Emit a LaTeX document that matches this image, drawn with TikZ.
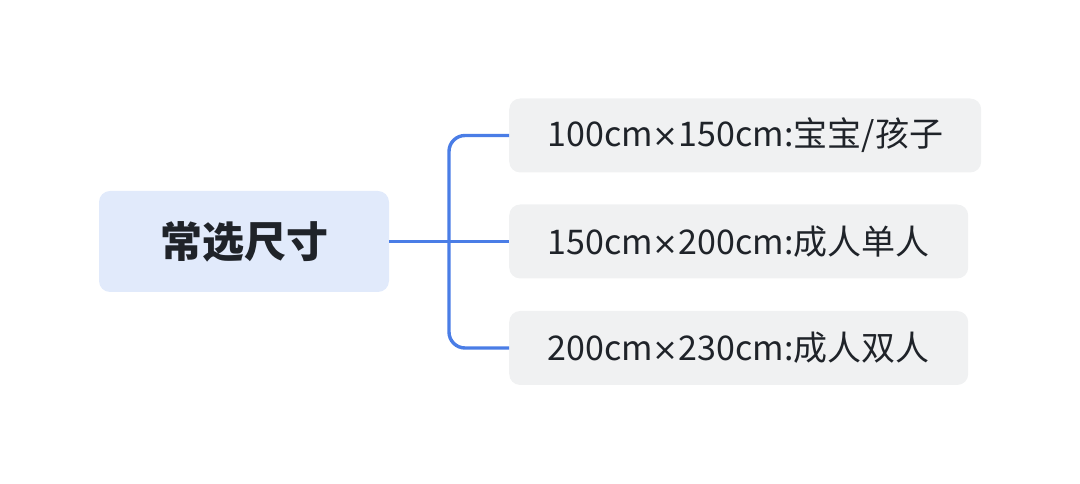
\documentclass[tikz,border=0pt]{standalone}
\usepackage{fontspec}
\setmainfont{Noto Sans CJK SC}
\newfontfamily\latinx{DejaVu Sans}
\newcommand{\mytimes}{{\latinx\fontsize{31}{38}\selectfont ×}}
\definecolor{rootfill}{HTML}{E1EAFB}
\definecolor{childfill}{HTML}{F0F1F2}
\definecolor{linkblue}{HTML}{4A7DE6}
\definecolor{txt}{HTML}{1F2329}
\begin{document}
\begin{tikzpicture}[x=1pt,y=1pt,
  rootbox/.style={fill=rootfill,rounded corners=11pt,minimum width=290pt,minimum height=101pt,inner sep=0pt,text=txt,font=\fontsize{42}{46}\selectfont\bfseries},
  childbox/.style={fill=childfill,rounded corners=11pt,minimum height=74pt,inner sep=0pt,anchor=west,text=txt,font=\fontsize{34}{38}\selectfont},
  link/.style={draw=linkblue,line width=3.4pt,rounded corners=16pt}]
\useasboundingbox (0,0) rectangle (1080,484);
\node[rootbox] (root) at (244,242.5) {常选尺寸};
\node[childbox,minimum width=472pt] (c1) at (509,348.5) {100cm\mytimes150cm:宝宝/孩子};
\node[childbox,minimum width=459pt] (c2) at (509,242.5) {150cm\mytimes200cm:成人单人};
\node[childbox,minimum width=459pt] (c3) at (509,136) {200cm\mytimes230cm:成人双人};
\coordinate (j) at (449,242.5);
\draw[link] (root.east) -- (c2.west);
\draw[link] (c1.west) -| (j) |- (c3.west);
\end{tikzpicture}
\end{document}
